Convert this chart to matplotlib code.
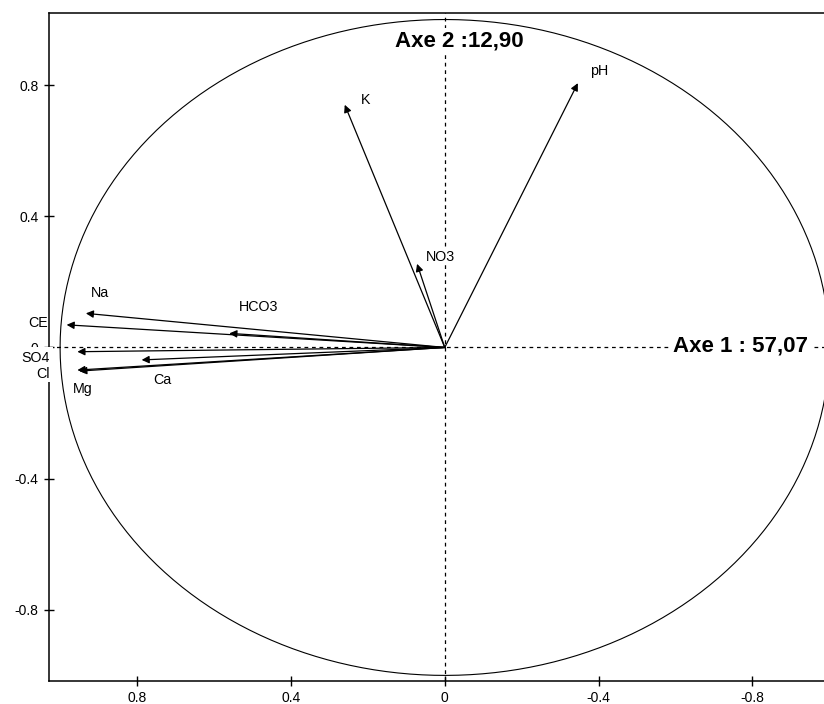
import numpy as np
import matplotlib
matplotlib.use("Agg")
import matplotlib.pyplot as plt

plt.rcParams['font.family'] = ['Liberation Sans', 'DejaVu Sans']

# Variables and their loadings on the two principal axes
variables = ["pH", "K", "NO3", "Na", "CE", "HCO3", "SO4", "Ca", "Cl", "Mg"]
axe1 = [-0.346, 0.260, 0.072, 0.933, 0.983, 0.560, 0.955, 0.788, 0.955, 0.950]
axe2 = [0.806, 0.740, 0.255, 0.104, 0.069, 0.043, -0.013, -0.038, -0.069, -0.072]

axis1_label = "Axe 1 : 57,07"
axis2_label = "Axe 2 :12,90"

tick_values = [0.8, 0.4, 0, -0.4, -0.8]
tick_labels = ["0.8", "0.4", "0", "-0.4", "-0.8"]

# label placement (data coords)
label_pos = {
    "pH": (-0.401, 0.843), "K": (0.206, 0.755), "NO3": (0.011, 0.276),
    "Na": (0.896, 0.167), "CE": (1.057, 0.074), "HCO3": (0.485, 0.123),
    "SO4": (1.065, -0.032), "Ca": (0.734, -0.099), "Cl": (1.044, -0.082),
    "Mg": (0.941, -0.127),
}
label_pad = {"SO4": 3.0}

fig = plt.figure(figsize=(8.24, 7.04), dpi=100)
ax = fig.add_axes([0.0591, 0.0327, 0.9615, 0.9489])
ax.set_xlim(1.0296, -1.03)
ax.set_ylim(-1.017, 1.02)

for side in ["left", "bottom", "top", "right"]:
    ax.spines[side].set_linewidth(1.1)

# unit circle
t = np.linspace(0, 2 * np.pi, 400)
ax.plot(np.cos(t), np.sin(t), color="black", lw=0.8, zorder=2)

# axes through origin
ax.axvline(0, color="black", lw=0.9, ls=(0, (3, 3)), zorder=1)
ax.axhline(0, color="black", lw=0.9, ls=(0, (3, 3)), zorder=1)

# arrows
for v, x, y in zip(variables, axe1, axe2):
    ax.annotate("", xy=(x, y), xytext=(0, 0),
                arrowprops=dict(arrowstyle="-|>", color="black", lw=0.9,
                                mutation_scale=11, shrinkA=0, shrinkB=0),
                zorder=3)

for v in variables:
    lx, ly = label_pos[v]
    ax.text(lx, ly, v, ha="center", va="center", fontsize=10.3, color="black",
            clip_on=False, zorder=5,
            bbox=dict(facecolor="white", edgecolor="none",
                      pad=label_pad.get(v, 0.3)))

ax.text(-0.770, 0.005, axis1_label, ha="center", va="center", fontsize=16,
        fontweight="bold", zorder=6,
        bbox=dict(facecolor="white", edgecolor="none", pad=2))
ax.text(-0.037, 0.935, axis2_label, ha="center", va="center", fontsize=16,
        fontweight="bold", zorder=6,
        bbox=dict(facecolor="white", edgecolor="none", pad=2))

ax.set_xticks(tick_values)
ax.set_xticklabels(tick_labels)
ax.set_yticks(tick_values)
ax.set_yticklabels(tick_labels)
ax.tick_params(direction="inout", length=7, width=1, labelsize=10, pad=4)

fig.savefig("out.png", dpi=100)
